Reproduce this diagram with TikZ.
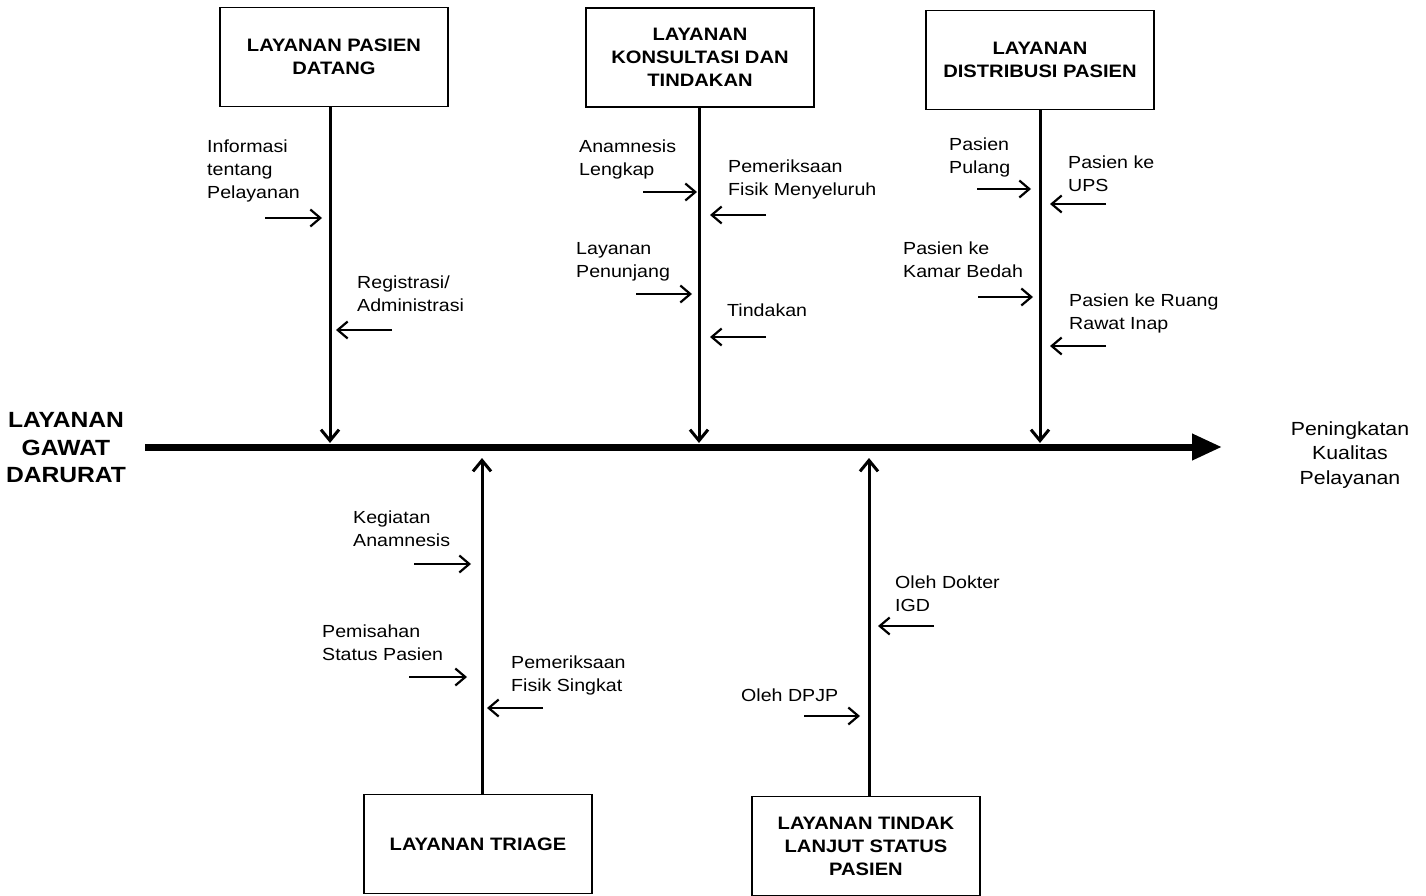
\documentclass[tikz,border=0pt]{standalone}
\usepackage{fontspec}
\setmainfont{Liberation Sans}[FakeStretch=1.12]
\usetikzlibrary{arrows.meta}

\begin{document}
\begin{tikzpicture}[x=1pt, y=-1pt,
  box/.style={draw, line width=1.8pt, minimum width=228pt, minimum height=99pt, align=center, font=\fontsize{18}{23}\selectfont\bfseries},
  lbl/.style={anchor=base west, inner sep=0pt, align=left, font=\fontsize{17.5}{23}\selectfont}, % anchored at last line
  spine/.style={line width=7pt, -{Triangle[length=30pt,width=25pt]}},
  bone/.style={line width=3pt, -{Straight Barb[length=11pt,width=18pt]}},
  cause/.style={line width=2.2pt, -{Straight Barb[length=10pt,width=17pt]}}]
  \useasboundingbox (0,0) rectangle (1426,896);

  \node[box] (P) at (334,57)   {LAYANAN PASIEN\\DATANG};
  \node[box] (K) at (700,57.5) {LAYANAN\\KONSULTASI DAN\\TINDAKAN};
  \node[box] (D) at (1040,60)  {LAYANAN\\DISTRIBUSI PASIEN};
  \node[box] (T) at (478,844)  {LAYANAN TRIAGE};
  \node[box] (S) at (866,846)  {LAYANAN TINDAK\\LANJUT STATUS\\PASIEN};

  \node[align=center, font=\fontsize{22}{27.5}\selectfont\bfseries] (start) at (66,448) {LAYANAN\\GAWAT\\DARURAT};
  \node[align=center, font=\fontsize{19}{24.5}\selectfont] (goal) at (1350,455) {Peningkatan\\Kualitas\\Pelayanan};

  % main spine
  \coordinate (tail) at (145,447);
  \coordinate (head) at (1222,447);
  \draw[spine] (tail) -- (head);

  % bones
  \coordinate (p) at (330,443);
  \coordinate (k) at (699,443);
  \coordinate (d) at (1040,443);
  \coordinate (t) at (482,458);
  \coordinate (s) at (869,458);
  \draw[bone] (P.south -| p) -- (p);
  \draw[bone] (K.south -| k) -- (k);
  \draw[bone] (D.south -| d) -- (d);
  \draw[bone] (T.north -| t) -- (t);
  \draw[bone] (S.north -| s) -- (s);

  % Pasien Datang
  \node[lbl] (p1) at (207,199) {Informasi\\tentang\\Pelayanan};
  \node[lbl] (p2) at (357,311) {Registrasi/\\Administrasi};
  \coordinate (p1a) at (265,218);
  \coordinate (p2a) at (392,330);
  \draw[cause] (p1a) -- ([xshift=-8pt]p1a -| p);
  \draw[cause] (p2a) -- ([xshift=6pt]p2a -| p);

  % Konsultasi dan Tindakan
  \node[lbl] (k1) at (579,176) {Anamnesis\\Lengkap};
  \node[lbl] (k2) at (728,196) {Pemeriksaan\\Fisik Menyeluruh};
  \node[lbl] (k3) at (576,277) {Layanan\\Penunjang};
  \node[lbl] (k4) at (727,316) {Tindakan};
  \coordinate (k1a) at (643,192);
  \coordinate (k2a) at (766,215);
  \coordinate (k3a) at (636,294);
  \coordinate (k4a) at (766,337);
  \draw[cause] (k1a) -- ([xshift=-2pt]k1a -| k);
  \draw[cause] (k2a) -- ([xshift=11pt]k2a -| k);
  \draw[cause] (k3a) -- ([xshift=-7pt]k3a -| k);
  \draw[cause] (k4a) -- ([xshift=11pt]k4a -| k);

  % Distribusi Pasien
  \node[lbl] (d1) at (949,174)  {Pasien\\Pulang};
  \node[lbl] (d2) at (1068,192) {Pasien ke\\UPS};
  \node[lbl] (d3) at (903,277)  {Pasien ke\\Kamar Bedah};
  \node[lbl] (d4) at (1069,329) {Pasien ke Ruang\\Rawat Inap};
  \coordinate (d1a) at (977,189);
  \coordinate (d2a) at (1106,204);
  \coordinate (d3a) at (978,297);
  \coordinate (d4a) at (1106,346);
  \draw[cause] (d1a) -- ([xshift=-9pt]d1a -| d);
  \draw[cause] (d2a) -- ([xshift=10pt]d2a -| d);
  \draw[cause] (d3a) -- ([xshift=-7pt]d3a -| d);
  \draw[cause] (d4a) -- ([xshift=10pt]d4a -| d);

  % Triage
  \node[lbl] (t1) at (353,546) {Kegiatan\\Anamnesis};
  \node[lbl] (t2) at (322,660) {Pemisahan\\Status Pasien};
  \node[lbl] (t3) at (511,691) {Pemeriksaan\\Fisik Singkat};
  \coordinate (t1a) at (414,564);
  \coordinate (t2a) at (409,677);
  \coordinate (t3a) at (543,708);
  \draw[cause] (t1a) -- ([xshift=-11pt]t1a -| t);
  \draw[cause] (t2a) -- ([xshift=-15pt]t2a -| t);
  \draw[cause] (t3a) -- ([xshift=5pt]t3a -| t);

  % Tindak Lanjut
  \node[lbl] (s1) at (895,611) {Oleh Dokter\\IGD};
  \node[lbl] (s2) at (741,701) {Oleh DPJP};
  \coordinate (s1a) at (934,626);
  \coordinate (s2a) at (804,716);
  \draw[cause] (s1a) -- ([xshift=9pt]s1a -| s);
  \draw[cause] (s2a) -- ([xshift=-9pt]s2a -| s);
\end{tikzpicture}
\end{document}
